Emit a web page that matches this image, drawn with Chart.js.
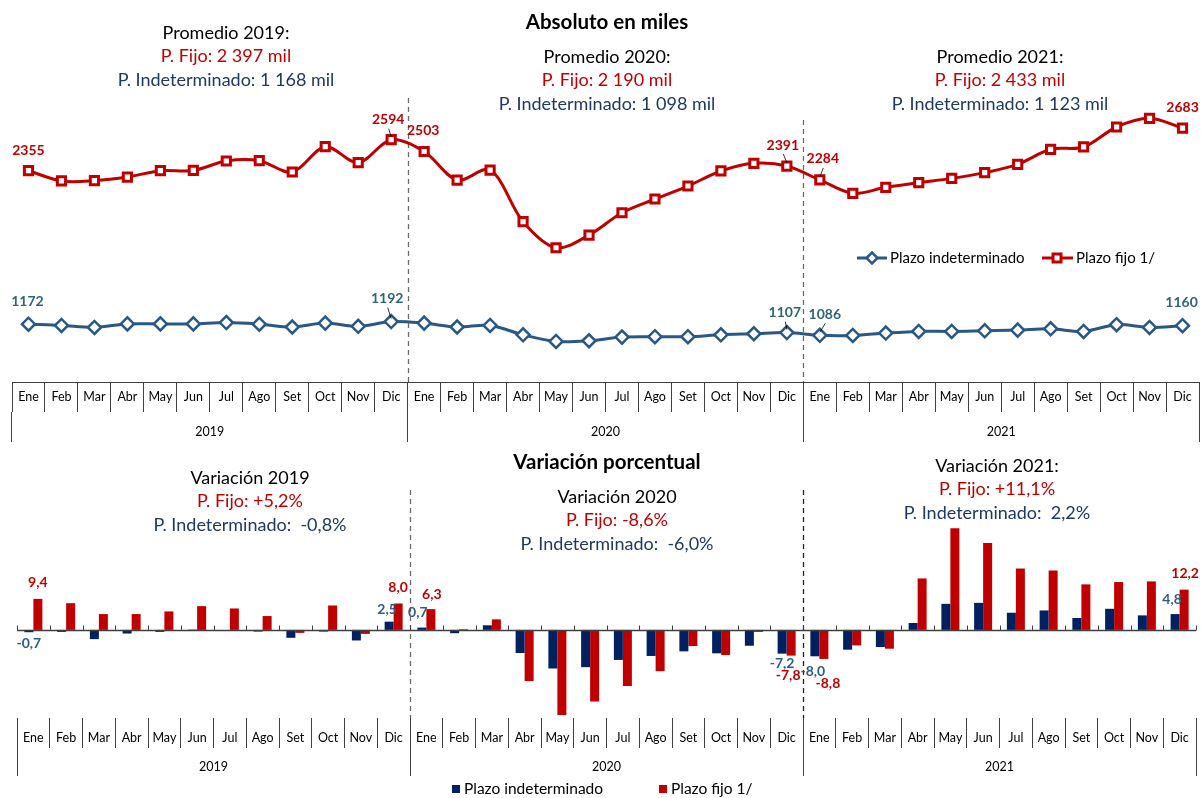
<!DOCTYPE html>
<html><head><meta charset="utf-8">
<script src="https://cdn.jsdelivr.net/npm/chart.js@4.4.0/dist/chart.umd.min.js"></script>
<style>
html,body{margin:0;padding:0;background:#fff;}
#wrap{position:relative;width:1201px;height:798px;overflow:hidden;}
#c1{position:absolute;left:0;top:0;}
#c2{position:absolute;left:0;top:450px;}
</style></head><body>
<div id="wrap"><canvas id="c1" width="1201" height="450"></canvas><canvas id="c2" width="1201" height="348"></canvas></div>
<script>
// ---------- DATA ----------
const months = ['Ene','Feb','Mar','Abr','May','Jun','Jul','Ago','Set','Oct','Nov','Dic'];
const years = ['2019','2020','2021'];
const categories = years.flatMap(() => months);

const seriesNames = ['Plazo indeterminado', 'Plazo fijo 1/'];

const indetAbs = [1172,1162,1147,1174,1174,1174,1184,1172,1150,1180,1155,1192,
                  1180,1150,1162,1090,1039,1044,1072,1075,1075,1090,1098,1107,
                  1086,1085,1103,1116,1116,1121,1126,1136,1116,1168,1147,1160];
const fijoAbs  = [2355,2276,2278,2306,2355,2357,2430,2432,2345,2540,2417,2594,
                  2503,2283,2360,1962,1761,1859,2031,2137,2237,2353,2412,2391,
                  2284,2181,2227,2263,2296,2340,2404,2520,2538,2692,2759,2683];

const indetVar = [-0.7,-0.6,-2.8,-1.1,-0.6,0.1,0.0,-0.5,-2.4,-0.5,-3.2,2.5,
                  0.7,-1.0,1.4,-7.0,-11.7,-11.3,-9.1,-7.9,-6.5,-7.1,-4.8,-7.2,
                  -8.0,-6.0,-5.2,2.1,7.9,8.2,5.2,5.9,3.6,6.4,4.4,4.8];
const fijoVar  = [9.4,8.1,4.8,4.8,5.6,7.2,6.5,4.2,-0.9,7.4,-1.2,8.0,
                  6.3,0.2,3.2,-15.5,-25.8,-21.7,-17.0,-12.5,-4.9,-7.6,-0.6,-7.8,
                  -8.8,-4.7,-5.7,15.6,30.8,26.3,18.6,18.0,13.8,14.5,14.7,12.2];

const topTitle = 'Absoluto en miles';
const promTitles = ['Promedio 2019:', 'Promedio 2020:', 'Promedio 2021:'];
const promFijo = ['P. Fijo: 2 397 mil', 'P. Fijo: 2 190 mil', 'P. Fijo: 2 433 mil'];
const promIndet = ['P. Indeterminado: 1 168 mil', 'P. Indeterminado: 1 098 mil', 'P. Indeterminado: 1 123 mil'];

const botTitle = 'Variación porcentual';
const varTitles = ['Variación 2019', 'Variación 2020', 'Variación 2021:'];
const varFijo = ['P. Fijo: +5,2%', 'P. Fijo: -8,6%', 'P. Fijo: +11,1%'];
const varIndet = ['P. Indeterminado:  -0,8%', 'P. Indeterminado:  -6,0%', 'P. Indeterminado:  2,2%'];

// ---------- STYLE ----------
const FONT = "Lato, 'Open Sans', sans-serif";
const RED = '#C00000', NAVY = '#1F3864', LINEBLUE = '#2A5886', TEAL = '#2F6478',
      BARBLUE = '#002060', LBLUE = '#2F5C88', GRID = '#404040';

function txt(ctx, s, x, y, font, color, align) {
  ctx.save(); ctx.font = font; ctx.fillStyle = color;
  ctx.textAlign = align || 'center'; ctx.textBaseline = 'middle';
  ctx.fillText(s, x, y); ctx.restore();
}
function seg(ctx, x1, y1, x2, y2, color, w, dash) {
  ctx.save(); ctx.strokeStyle = color; ctx.lineWidth = w || 1;
  ctx.setLineDash(dash || []); ctx.beginPath(); ctx.moveTo(x1, y1); ctx.lineTo(x2, y2); ctx.stroke(); ctx.restore();
}
function yearBreakX(x, i) { return Math.round((x.getPixelForValue(i - 1) + x.getPixelForValue(i)) / 2) + 0.5; }

function monthAxis(h, pad) {
  return {
    type: 'category', position: 'bottom', offset: true, weight: 0,
    grid: { offset: true, drawOnChartArea: false, drawTicks: true, tickLength: h, color: GRID, lineWidth: 1 },
    ticks: { autoSkip: false, maxRotation: 0, minRotation: 0, padding: pad, color: '#000', font: { family: FONT, size: 12.5 } },
    afterFit: s => { s.height = h; }
  };
}
function yearAxis(h, pad) {
  return {
    type: 'category', position: 'bottom', offset: true, weight: 1, labels: years,
    grid: { offset: true, drawOnChartArea: false, drawTicks: true, tickLength: h, color: GRID, lineWidth: 1 },
    border: { display: false },
    ticks: { autoSkip: false, maxRotation: 0, padding: pad, color: '#000', font: { family: FONT, size: 12.5 } },
    afterFit: s => { s.height = h; }
  };
}

// ---------- TOP CHART ----------
const topLabels = [
  { ds: 1, i: 0, dx: 0, dy: -20 }, { ds: 1, i: 11, dx: -3, dy: -20, lead: true },
  { ds: 1, i: 12, dx: -1, dy: -21 }, { ds: 1, i: 23, dx: -4, dy: -21, lead: true },
  { ds: 1, i: 24, dx: 3, dy: -21, lead: true }, { ds: 1, i: 35, dx: 0, dy: -21 },
  { ds: 0, i: 0, dx: -1, dy: -23 }, { ds: 0, i: 11, dx: -4, dy: -23, lead: true },
  { ds: 0, i: 23, dx: -2, dy: -20, lead: true }, { ds: 0, i: 24, dx: 5, dy: -21, lead: true },
  { ds: 0, i: 35, dx: -1, dy: -23 }
];

const topPlugin = {
  id: 'topDeco',
  beforeDatasetsDraw(chart) {
    const { ctx, scales: { x }, chartArea } = chart;
    [[12, 98], [24, 120]].forEach(([b, t]) => {
      const xp = yearBreakX(x, b);
      seg(ctx, xp, t, xp, chartArea.bottom, '#6b6b6b', 1.3, [5, 4]);
    });
  },
  afterDatasetsDraw(chart) {
    const { ctx } = chart;
    topLabels.forEach(s => {
      const el = chart.getDatasetMeta(s.ds).data[s.i];
      const v = chart.data.datasets[s.ds].data[s.i];
      const lx = el.x + s.dx, ly = el.y + s.dy;
      txt(ctx, String(v), lx, ly, 'bold 14px ' + FONT, s.ds === 1 ? RED : TEAL);
      if (s.lead) seg(ctx, lx + 0.5, ly + 9, el.x, el.y - 3, '#000', 0.8);
    });
  },
  afterDraw(chart) {
    const { ctx } = chart;
    txt(ctx, topTitle, 607, 22, 'bold 20.5px ' + FONT, '#000');
    const pos = [[226, 33], [607, 57], [1000, 57]];
    pos.forEach(([cx, cy], k) => {
      txt(ctx, promTitles[k], cx, cy, '18px ' + FONT, '#000');
      txt(ctx, promFijo[k], cx, cy + 23.5, '18px ' + FONT, RED);
      txt(ctx, promIndet[k], cx, cy + 47, '18px ' + FONT, NAVY);
    });
    // legend
    const ly = 258;
    seg(ctx, 857, ly, 887, ly, LINEBLUE, 3);
    ctx.save(); ctx.beginPath(); ctx.moveTo(872 - 5.5, ly); ctx.lineTo(872, ly - 5.5); ctx.lineTo(872 + 5.5, ly); ctx.lineTo(872, ly + 5.5); ctx.closePath();
    ctx.fillStyle = '#fff'; ctx.fill(); ctx.lineWidth = 2.5; ctx.strokeStyle = LINEBLUE; ctx.stroke(); ctx.restore();
    txt(ctx, seriesNames[0], 890, ly, '15px ' + FONT, '#000', 'left');
    seg(ctx, 1042, ly, 1073, ly, RED, 3);
    ctx.save(); ctx.fillStyle = '#fff'; ctx.fillRect(1053, ly - 4, 8, 8); ctx.lineWidth = 3; ctx.strokeStyle = RED; ctx.strokeRect(1053, ly - 4, 8, 8); ctx.restore();
    txt(ctx, seriesNames[1], 1076, ly, '15px ' + FONT, '#000', 'left');
  }
};

new Chart(document.getElementById('c1'), {
  type: 'line',
  data: {
    labels: categories,
    datasets: [
      { label: seriesNames[0], data: indetAbs, borderColor: LINEBLUE, borderWidth: 3, tension: 0.33,
        pointStyle: 'rectRot', pointRadius: 6.5, pointBorderWidth: 2.5, pointBackgroundColor: '#fff', pointBorderColor: LINEBLUE },
      { label: seriesNames[1], data: fijoAbs, borderColor: RED, borderWidth: 3, tension: 0.33,
        pointStyle: 'rect', pointRadius: 5.8, pointBorderWidth: 3, pointBackgroundColor: '#fff', pointBorderColor: RED }
    ]
  },
  options: {
    responsive: false, animation: false,
    layout: { autoPadding: false, padding: { top: 96, bottom: 8, left: 12, right: 2 } },
    plugins: { legend: { display: false }, tooltip: { enabled: false } },
    scales: {
      x: Object.assign(monthAxis(30, -22.2), { border: { display: true, color: GRID, width: 1 } }),
      x2: yearAxis(30, -17.2),
      y: { display: false, min: 726, max: 2931 }
    }
  },
  plugins: [topPlugin]
});

// ---------- BOTTOM CHART ----------
const OFF = 450;
const botLabels = [
  { ds: 1, i: 0, dx: 0, dy: -16 }, { ds: 0, i: 0, dx: 0, dy: 11 },
  { ds: 0, i: 11, dx: -2, dy: -12 }, { ds: 1, i: 11, dx: 0, dy: -16 },
  { ds: 0, i: 12, dx: -4, dy: -15 }, { ds: 1, i: 12, dx: 1, dy: -15 },
  { ds: 0, i: 23, dx: 0, dy: 10 }, { ds: 1, i: 23, dx: -3, dy: 20 },
  { ds: 0, i: 24, dx: -2, dy: 15 }, { ds: 1, i: 24, dx: 4, dy: 25 },
  { ds: 0, i: 35, dx: -3, dy: -15 }, { ds: 1, i: 35, dx: 1, dy: -16 }
];

const botPlugin = {
  id: 'botDeco',
  beforeDatasetsDraw(chart) {
    const { ctx, scales: { x }, chartArea } = chart;
    [12, 24].forEach(b => {
      const xp = yearBreakX(x, b);
      seg(ctx, xp, chartArea.top, xp, chartArea.bottom, b === 12 ? '#6b6b6b' : '#222', 1.3, [5, 4]);
    });
  },
  afterDatasetsDraw(chart) {
    const { ctx, scales: { x, y }, chartArea } = chart;
    const y0 = Math.round(y.getPixelForValue(0)) + 0.5;
    seg(ctx, chartArea.left, y0, chartArea.right, y0, '#404040', 1.5);
    for (let i = 0; i <= categories.length; i++) {
      const xp = i === 0 ? chartArea.left : (i === categories.length ? chartArea.right :
        (x.getPixelForValue(i - 1) + x.getPixelForValue(i)) / 2);
      const xr = Math.round(xp) + 0.5;
      seg(ctx, xr, y0 - 5, xr, y0, '#404040', 1);
    }
    botLabels.forEach(s => {
      const el = chart.getDatasetMeta(s.ds).data[s.i];
      const v = chart.data.datasets[s.ds].data[s.i];
      txt(ctx, v.toFixed(1).replace('.', ','), el.x + s.dx, el.y + s.dy, 'bold 14px ' + FONT, s.ds === 1 ? RED : LBLUE);
    });
  },
  afterDraw(chart) {
    const { ctx } = chart;
    txt(ctx, botTitle, 607, 462 - OFF, 'bold 20.5px ' + FONT, '#000');
    const pos = [[250, 478], [617, 497], [997, 466]];
    pos.forEach(([cx, cy], k) => {
      txt(ctx, varTitles[k], cx, cy - OFF, '18px ' + FONT, '#000');
      txt(ctx, varFijo[k], cx, cy + 23.5 - OFF, '18px ' + FONT, RED);
      txt(ctx, varIndet[k], cx, cy + 47 - OFF, '18px ' + FONT, NAVY);
    });
    const ly = 789 - OFF;
    ctx.save(); ctx.fillStyle = BARBLUE; ctx.fillRect(452, ly - 4, 8, 8);
    ctx.fillStyle = RED; ctx.fillRect(659, ly - 4, 8, 8); ctx.restore();
    txt(ctx, seriesNames[0], 464, ly, '15.5px ' + FONT, '#000', 'left');
    txt(ctx, seriesNames[1], 671, ly, '15.5px ' + FONT, '#000', 'left');
  }
};

new Chart(document.getElementById('c2'), {
  type: 'bar',
  data: {
    labels: categories,
    datasets: [
      { label: seriesNames[0], data: indetVar, backgroundColor: BARBLUE, categoryPercentage: 0.55, barPercentage: 1 },
      { label: seriesNames[1], data: fijoVar, backgroundColor: RED, categoryPercentage: 0.55, barPercentage: 1 }
    ]
  },
  options: {
    responsive: false, animation: false,
    layout: { autoPadding: false, padding: { top: 40, bottom: 22, left: 17, right: 5 } },
    plugins: { legend: { display: false }, tooltip: { enabled: false } },
    scales: {
      x: Object.assign(monthAxis(30, -17.2), { border: { display: false } }),
      x2: yearAxis(28, -16.2),
      y: { display: false, min: -26.7, max: 42.4 }
    }
  },
  plugins: [botPlugin]
});
</script>
</body></html>
